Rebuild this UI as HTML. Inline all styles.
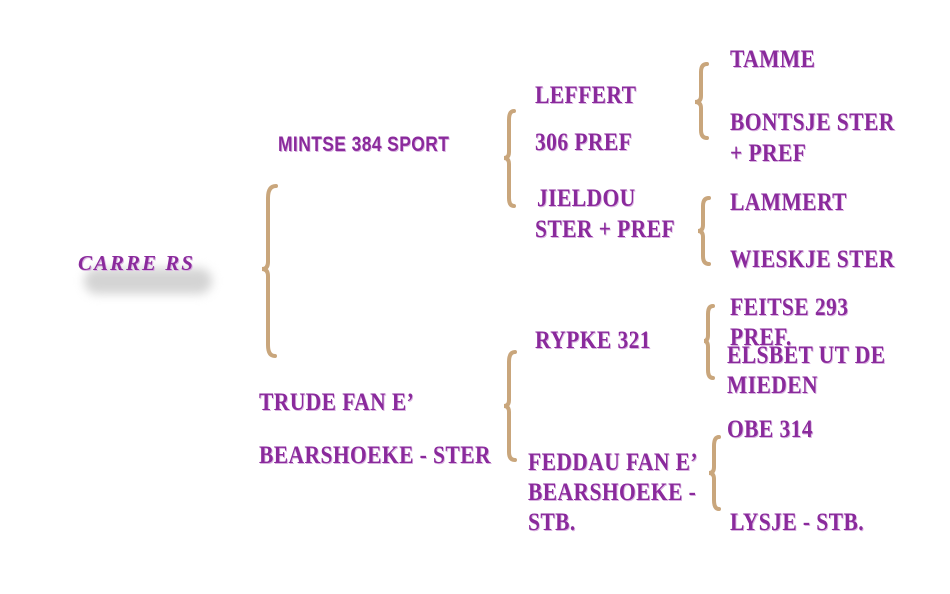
<!DOCTYPE html>
<html><head><meta charset="utf-8"><style>
body{margin:0;width:950px;height:594px;background:#fff;position:relative;overflow:hidden}
.t{position:absolute;font-family:"Liberation Serif",serif;font-weight:bold;font-size:25px;line-height:26px;color:#8a2a9c;white-space:nowrap;letter-spacing:0.5px;text-shadow:1px 1px 0 #d9b3e0;transform:scaleX(0.86);transform-origin:left top}
.n{font-family:"Liberation Sans Narrow","Liberation Sans",sans-serif;font-size:21px;transform:scaleX(0.83)}
svg{position:absolute;left:0;top:0}
</style></head><body>
<svg width="950" height="594" fill="none" stroke="#c9a67c" stroke-width="4" stroke-linecap="round">
<path d="M276,186 Q268,186 268,198 L268,262 Q268,269 262,269 Q268,269 268,276 L268,345 Q268,356 275,356"/>
<path d="M514,111 Q509,111 509,120 L509,152 Q509,158 504,158 Q509,158 509,164 L509,198 Q509,206 514,206"/>
<path d="M707,64 Q701,64 701,72 L701,96 Q701,102 695,102 Q701,102 701,108 L701,130 Q701,138 707,138"/>
<path d="M709,198 Q703,198 703,206 L703,225 Q703,231 698,231 Q703,231 703,237 L703,256 Q703,264 709,264"/>
<path d="M713,306 Q708,306 708,314 L708,335 Q708,341 704,341 Q708,341 708,347 L708,370 Q708,378 713,378"/>
<path d="M515,352 Q509,352 509,362 L509,400 Q509,406 504,406 Q509,406 509,412 L509,452 Q509,460 515,460"/>
<path d="M719,437 Q714,437 714,446 L714,467 Q714,473 709,473 Q714,473 714,479 L714,500 Q714,509 719,509"/>
</svg>
<div style="position:absolute;left:84px;top:268px;width:128px;height:26px;border-radius:13px;background:#d4d4d4;filter:blur(5px)"></div>
<div class="t" style="left:78px;top:250px;font-style:italic;font-size:21px;letter-spacing:2px;transform:none">CARRE RS</div>
<div class="t n" style="left:278px;top:132px">MINTSE 384 SPORT</div>
<div class="t" style="left:535px;top:83px">LEFFERT</div>
<div class="t" style="left:535px;top:130px">306 PREF</div>
<div class="t" style="left:537px;top:186px">JIELDOU</div>
<div class="t" style="left:535px;top:217px">STER + PREF</div>
<div class="t" style="left:730px;top:47px">TAMME</div>
<div class="t" style="left:730px;top:110px">BONTSJE STER</div>
<div class="t" style="left:730px;top:141px">+ PREF</div>
<div class="t" style="left:730px;top:190px">LAMMERT</div>
<div class="t" style="left:730px;top:247px">WIESKJE STER</div>
<div class="t" style="left:730px;top:295px">FEITSE 293</div>
<div class="t" style="left:730px;top:325px">PREF.</div>
<div class="t" style="left:727px;top:343px">ELSBET UT DE</div>
<div class="t" style="left:727px;top:373px">MIEDEN</div>
<div class="t" style="left:727px;top:417px">OBE 314</div>
<div class="t" style="left:730px;top:510px">LYSJE - STB.</div>
<div class="t" style="left:535px;top:328px">RYPKE 321</div>
<div class="t" style="left:528px;top:450px">FEDDAU FAN E’</div>
<div class="t" style="left:528px;top:480px">BEARSHOEKE -</div>
<div class="t" style="left:528px;top:510px">STB.</div>
<div class="t" style="left:259px;top:390px">TRUDE FAN E’</div>
<div class="t" style="left:259px;top:443px">BEARSHOEKE - STER</div>
</body></html>
